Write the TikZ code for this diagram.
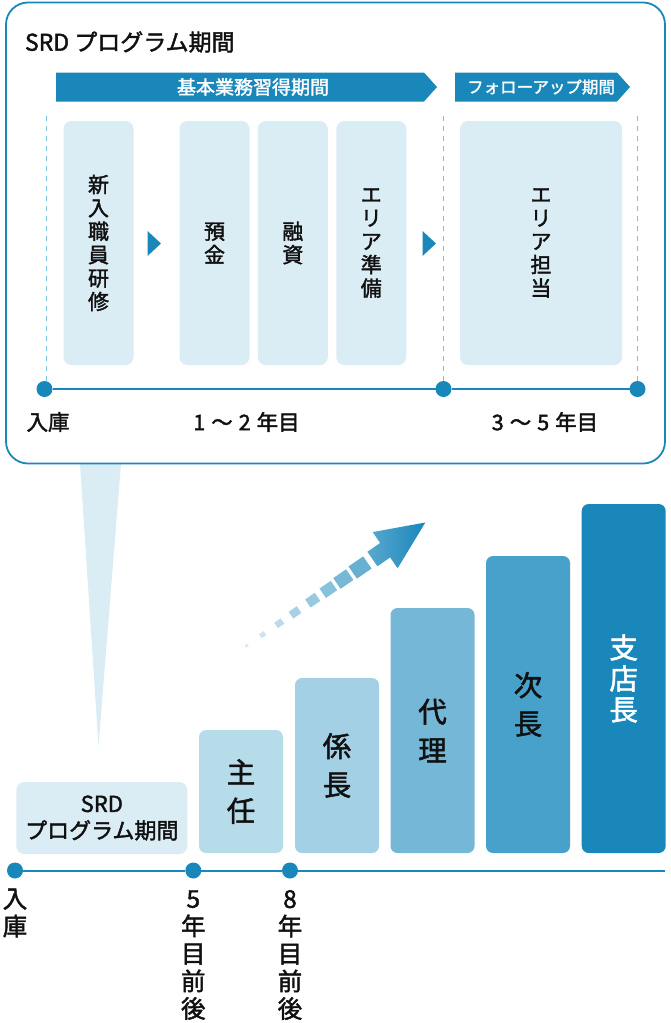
\documentclass[tikz,border=0pt]{standalone}
\usepackage{fontspec}
\setmainfont{Noto Sans CJK JP}[FakeBold=1.8]
\definecolor{mblue}{HTML}{1A87BB}
\definecolor{lbox}{HTML}{DBEDF4}
\definecolor{dashc}{HTML}{7CC0DF}
\definecolor{txt}{HTML}{111111}
\definecolor{barA}{HTML}{B6DCEA}
\definecolor{barB}{HTML}{A3D0E4}
\definecolor{barC}{HTML}{75B7D7}
\definecolor{barD}{HTML}{47A1CB}
\definecolor{barE}{HTML}{1A87BB}
\begin{document}
\begin{tikzpicture}[x=1pt,y=-1pt,
  every node/.style={inner sep=0pt, outer sep=0pt, text=txt},
  topbox/.style={fill=lbox, rounded corners=8pt, minimum width=70pt, minimum height=244pt, align=center, font=\fontsize{21}{23.4}\selectfont},
  bar/.style={rounded corners=7pt, minimum width=84pt, anchor=south, align=center, font=\fontsize{28.5}{38.5}\selectfont},
  dot/.style={circle, fill=mblue, minimum size=16pt},
  tline/.style={mblue, line width=2pt},
  dline/.style={dashc, line width=0.9pt, dash pattern=on 5pt off 5pt},
  banner/.style={fill=mblue},
  lab/.style={font=\fontsize{21.5}{24}\selectfont},
  vlab/.style={align=center, font=\fontsize{24.5}{27.5}\selectfont}
]
\useasboundingbox (0,0) rectangle (670,1023);
% callout tail
\fill[lbox] (80,464) -- (121,464) -- (98.5,746) -- cycle;
% outer box
\draw[mblue, line width=1.8pt, rounded corners=22pt, fill=white] (6,2.5) rectangle (665,463.5);
% title
\node[anchor=west, font=\fontsize{23}{26}\selectfont] (title) at (25,42) {SRD プログラム期間};
% banners
\fill[banner] (56,72.5) -- (424,72.5) -- (437,87) -- (424,101.5) -- (56,101.5) -- cycle;
\node[text=white, font=\fontsize{19}{20}\selectfont] (ban1) at (253,87) {基本業務習得期間};
\fill[banner] (455,72.5) -- (617,72.5) -- (630,87) -- (617,101.5) -- (455,101.5) -- cycle;
\node[text=white, font=\fontsize{16.5}{20}\selectfont] (ban2) at (541,87) {フォローアップ期間};
% dashed lines
\draw[dline] (46,116) -- (46,382);
\draw[dline] (443.5,116) -- (443.5,382);
\draw[dline] (637.5,116) -- (637.5,382);
% boxes
\node[topbox] (b1) at (98.5,243) {新\\入\\職\\員\\研\\修};
\node[topbox] (b2) at (214.5,243) {預\\金};
\node[topbox] (b3) at (292.8,243) {融\\資};
\node[topbox] (b4) at (371.3,243) {エ\\リ\\ア\\準\\備};
\node[topbox, minimum width=162pt] (b5) at (541,243) {エ\\リ\\ア\\担\\当};
% small triangles
\fill[mblue] (147.5,231) -- (161,243.5) -- (147.5,256) -- cycle;
\fill[mblue] (422.5,231) -- (436,243.5) -- (422.5,256) -- cycle;
% top timeline
\node[dot] (t1) at (44.5,389) {};
\node[dot] (t2) at (443.5,389) {};
\node[dot] (t3) at (637.5,389) {};
\draw[tline] (t1) -- (t2) -- (t3);
\node[lab] (l1) at (48,422) {入庫};
\node[lab] (l2) at (246.5,422) {1\hspace{6pt}〜\hspace{6pt}2\hspace{6pt}年目};
\node[lab] (l3) at (545,422) {3\hspace{6pt}〜\hspace{6pt}5\hspace{6pt}年目};
% arrow
\begin{scope}[shift={(246.7,645.7)}, rotate=34.6]
  \foreach \d/\s/\p in {0/3/15, 19.4/4.8/22, 39.6/6.5/30, 58.7/8.2/38, 80.2/9.8/45, 99.2/11.4/52, 117.4/13/59, 137.7/14.8/66}{
    \fill[mblue!\p!white] (\d-0.6*\s,-0.5*\s) rectangle (\d+0.6*\s,0.5*\s);
  }
  \shade[left color=mblue!72!white, right color=mblue]
    (152.7,-8.8) -- (168.2,-8.8) -- (168.2,-22) -- (217,0) -- (168.2,22) -- (168.2,8.8) -- (152.7,8.8) -- cycle;
\end{scope}
% bottom: SRD box and bars
\node[fill=lbox, rounded corners=8pt, minimum width=171pt, minimum height=72pt, align=center, font=\fontsize{22}{26.7}\selectfont] (srd) at (101.8,818) {SRD\\プログラム期間};
\node[bar, fill=barA, minimum height=123pt] (r1) at (241,853) {主\\任};
\node[bar, fill=barB, minimum height=175pt] (r2) at (337,853) {係\\長};
\node[bar, fill=barC, minimum height=245pt] (r3) at (432.5,853) {代\\理};
\node[bar, fill=barD, minimum height=297pt] (r4) at (528,853) {次\\長};
\node[bar, fill=barE, minimum height=349pt, text=white, font=\fontsize{28.5}{31}\selectfont] (r5) at (623.7,853) {支\\店\\長};
% bottom timeline
\node[dot] (u1) at (15,870.5) {};
\node[dot] (u2) at (193.3,870.5) {};
\node[dot] (u3) at (290,870.5) {};
\coordinate (uend) at (665,870.5);
\draw[tline] (u1) -- (u2) -- (u3) -- (uend);
\node[vlab] (v1) at (15,913) {入\\庫};
\node[vlab] (v2) at (193.3,955) {5\\年\\目\\前\\後};
\node[vlab] (v3) at (290,955) {8\\年\\目\\前\\後};
\end{tikzpicture}
\end{document}
